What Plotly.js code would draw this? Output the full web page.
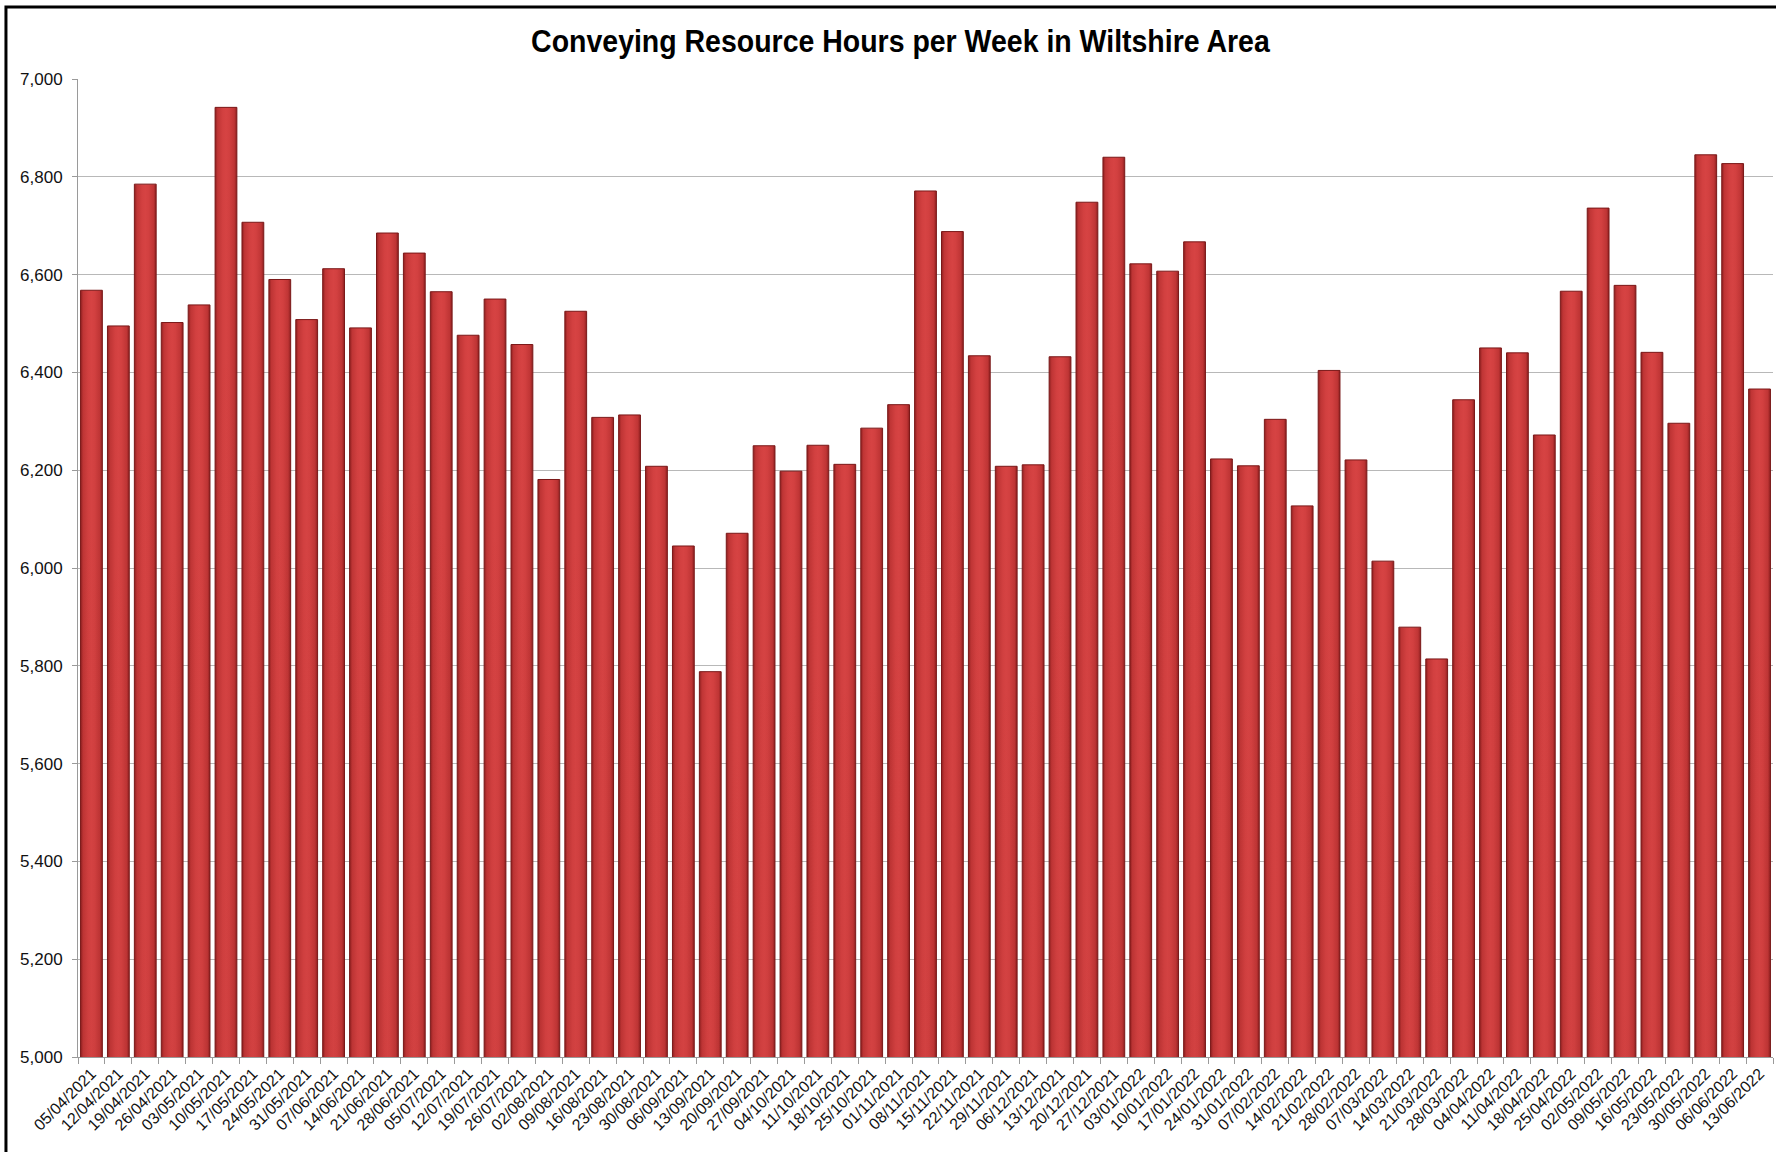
<!DOCTYPE html>
<html>
<head>
<meta charset="utf-8">
<script src="https://cdn.plot.ly/plotly-3.0.1.min.js"></script>
<style>
html,body{margin:0;padding:0;background:#fff;}
#chart{width:1776px;height:1152px;}
</style>
</head>
<body>
<div id="chart"></div>
<script>
const weeks = ["05/04/2021","12/04/2021","19/04/2021","26/04/2021","03/05/2021","10/05/2021","17/05/2021","24/05/2021","31/05/2021","07/06/2021","14/06/2021","21/06/2021","28/06/2021","05/07/2021","12/07/2021","19/07/2021","26/07/2021","02/08/2021","09/08/2021","16/08/2021","23/08/2021","30/08/2021","06/09/2021","13/09/2021","20/09/2021","27/09/2021","04/10/2021","11/10/2021","18/10/2021","25/10/2021","01/11/2021","08/11/2021","15/11/2021","22/11/2021","29/11/2021","06/12/2021","13/12/2021","20/12/2021","27/12/2021","03/01/2022","10/01/2022","17/01/2022","24/01/2022","31/01/2022","07/02/2022","14/02/2022","21/02/2022","28/02/2022","07/03/2022","14/03/2022","21/03/2022","28/03/2022","04/04/2022","11/04/2022","18/04/2022","25/04/2022","02/05/2022","09/05/2022","16/05/2022","23/05/2022","30/05/2022","06/06/2022","13/06/2022"];
const hours = [6568,6495,6785,6502,6538,6942,6707,6590,6508,6612,6491,6685,6644,6565,6476,6550,6457,6181,6525,6308,6313,6208,6045,5788,6071,6250,6198,6251,6212,6286,6334,6771,6688,6434,6208,6211,6432,6748,6840,6622,6607,6667,6223,6209,6304,6127,6404,6221,6014,5879,5814,6344,6450,6440,6272,6566,6736,6578,6441,6296,6845,6827,6366];
const yTicks = [5000,5200,5400,5600,5800,6000,6200,6400,6600,6800,7000];
const yTickText = yTicks.map(v => v.toLocaleString('en-GB'));

const baseTrace = {
  type:'bar', x:weeks, y:hours, name:'base',
  marker:{color:'#c83a3a', line:{color:'#7a1818', width:1}},
  hoverinfo:'x+y'
};
const shadeTrace = {
  type:'bar', x:weeks, y:hours, name:'shade',
  marker:{color:'rgba(0,0,0,0)', line:{width:0}},
  hoverinfo:'skip'
};

const layout = {
  width:1776, height:1152,
  margin:{l:78, r:3, t:79, b:95, autoexpand:false},
  paper_bgcolor:'#ffffff', plot_bgcolor:'#ffffff',
  showlegend:false,
  barmode:'overlay',
  bargap:0.19,
  title:{text:'Conveying Resource Hours per Week in Wiltshire Area',
    font:{family:'Liberation Sans, Arial', size:32, color:'#000', weight:'bold'},
    x:0.507, xanchor:'center', y:0.965, yanchor:'middle'},
  xaxis:{type:'category', tickangle:-45, tickson:'boundaries', ticks:'outside', ticklen:6,
    tickcolor:'#9a9a9a', showline:true, linecolor:'#9a9a9a', linewidth:1,
    showgrid:false, automargin:false,
    tickfont:{family:'Liberation Sans, Arial', size:16, color:'#111'}},
  yaxis:{range:[5000,7000], tickvals:yTicks, ticktext:yTickText, ticks:'outside', ticklen:5,
    ticklabelstandoff:6,
    tickcolor:'#9a9a9a', showline:true, linecolor:'#9a9a9a', linewidth:1,
    showgrid:true, gridcolor:'#b8b8b8', gridwidth:1, zeroline:false, automargin:false,
    tickfont:{family:'Liberation Sans, Arial', size:17, color:'#111'}},
  shapes:[{type:'rect', xref:'paper', yref:'paper', x0:-0.0425, x1:1.3, y0:-0.3, y1:1.0736,
    line:{color:'#000', width:3}, fillcolor:'rgba(0,0,0,0)', layer:'above'}]
};

Plotly.newPlot('chart', [baseTrace, shadeTrace], layout, {staticPlot:true}).then(gd => {
  const svg = gd.querySelector('.main-svg');
  let defs = svg.querySelector('defs');
  const NS = 'http://www.w3.org/2000/svg';
  function grad(id, x2, y2, stops){
    const g = document.createElementNS(NS,'linearGradient');
    g.setAttribute('id', id);
    g.setAttribute('x1','0'); g.setAttribute('y1','0');
    g.setAttribute('x2', x2); g.setAttribute('y2', y2);
    stops.forEach(s => {
      const st = document.createElementNS(NS,'stop');
      st.setAttribute('offset', s[0]);
      st.setAttribute('stop-color', s[1]);
      st.setAttribute('stop-opacity', s[2] === undefined ? 1 : s[2]);
      g.appendChild(st);
    });
    defs.appendChild(g);
  }
  grad('hgrad','1','0',[[0,'#8e2020'],[0.12,'#bf3535'],[0.35,'#d24040'],[0.5,'#d64343'],[0.65,'#d24040'],[0.88,'#bf3535'],[1,'#8e2020']]);
  grad('vgrad','0','1',[[0,'#3a0000',0],[0.3,'#3a0000',0.03],[1,'#3a0000',0.28]]);
  const traces = gd.querySelectorAll('.barlayer .trace');
  traces[0].querySelectorAll('path').forEach(p => { p.style.fill = 'url(#hgrad)'; });
  traces[1].querySelectorAll('path').forEach(p => { p.style.fill = 'url(#vgrad)'; p.style.fillOpacity = 1; });
  // condense the title like the original narrow bold face
  const t = gd.querySelector('.infolayer .gtitle');
  if (t) {
    const cx = parseFloat(t.getAttribute('x'));
    t.setAttribute('transform', 'translate(' + cx + ',0) scale(0.89,1) translate(' + (-cx) + ',0)');
  }
});
</script>
</body>
</html>
